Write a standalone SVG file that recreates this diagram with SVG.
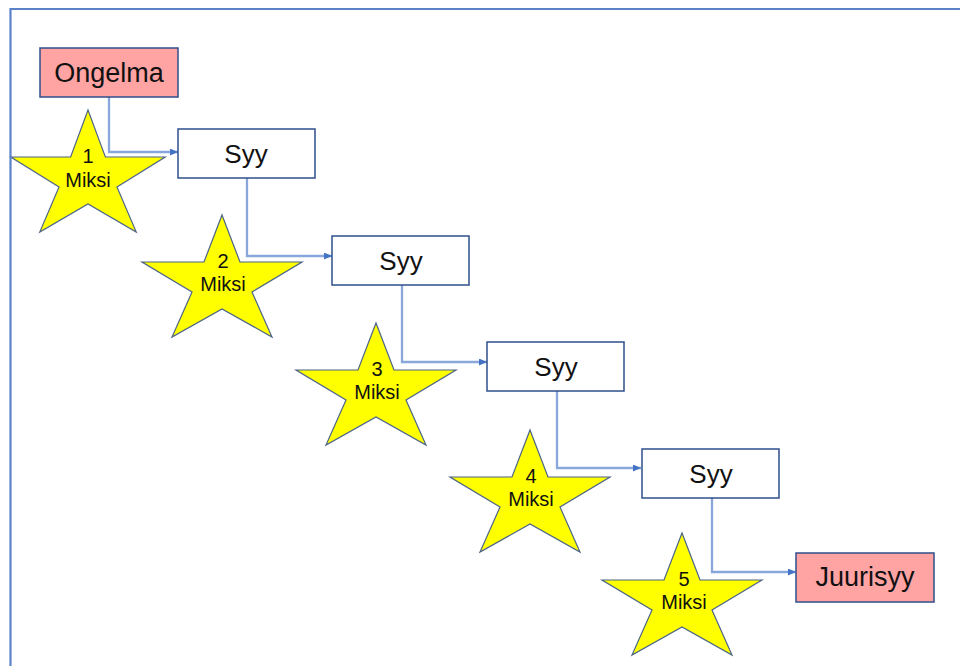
<svg xmlns="http://www.w3.org/2000/svg" width="960" height="666" viewBox="0 0 960 666">
<style>
.box{stroke:#2f4f8a;stroke-width:1.5}
.cause{fill:#ffffff}
.pink{fill:#ffa3a3}
.star{fill:#ffff00;stroke:#4a6487;stroke-width:1.2;stroke-linejoin:miter}
.lbl{font-family:"Liberation Sans",Arial,sans-serif;fill:#111;text-anchor:middle}
.big{font-size:26px}
.pk{font-size:27px}
.st{font-size:20px}
.conn{fill:none;stroke:#8aa7dc;stroke-width:2.3}
</style>
<defs>
<polygon id="starshape" points="0,0 18,47 80,47 30,77 50,122 0,94 -50,122 -30,77 -80,47 -18,47"/>
<marker id="arr" markerUnits="userSpaceOnUse" markerWidth="9" markerHeight="8" refX="8" refY="3.5" orient="auto">
<path d="M0,0 L8,3.5 L0,7 z" fill="#4472c4"/>
</marker>
</defs>
<rect width="960" height="666" fill="#ffffff"/>

<g id="star1"><use href="#starshape" class="star" transform="translate(88,110) scale(0.965,1)"/><text class="lbl st" x="88" y="163">1</text><text class="lbl st" x="88" y="187">Miksi</text></g>
<g id="star2"><use href="#starshape" class="star" x="222" y="215"/><text class="lbl st" x="223" y="268">2</text><text class="lbl st" x="223" y="291">Miksi</text></g>
<g id="star3"><use href="#starshape" class="star" x="376" y="323"/><text class="lbl st" x="377" y="376">3</text><text class="lbl st" x="377" y="399">Miksi</text></g>
<g id="star4"><use href="#starshape" class="star" x="530" y="430"/><text class="lbl st" x="531" y="483">4</text><text class="lbl st" x="531" y="506">Miksi</text></g>
<g id="star5"><use href="#starshape" class="star" x="682" y="533"/><text class="lbl st" x="684" y="586">5</text><text class="lbl st" x="684" y="609">Miksi</text></g>

<g id="connectors">
<path class="conn" d="M109,97 V152 H178" marker-end="url(#arr)"/>
<path class="conn" d="M247,173 V256 H332" marker-end="url(#arr)"/>
<path class="conn" d="M402,280 V362 H487" marker-end="url(#arr)"/>
<path class="conn" d="M557,387 V468 H641" marker-end="url(#arr)"/>
<path class="conn" d="M712,490 V572 H796" marker-end="url(#arr)"/>
</g>

<g id="ongelma"><rect class="box pink" x="40" y="48" width="138" height="49"/><text class="lbl pk" x="109" y="82">Ongelma</text></g>
<g id="syy1"><rect class="box cause" x="178" y="129" width="137" height="49"/><text class="lbl big" x="246" y="163">Syy</text></g>
<g id="syy2"><rect class="box cause" x="332" y="236" width="137" height="49"/><text class="lbl big" x="401" y="270">Syy</text></g>
<g id="syy3"><rect class="box cause" x="487" y="342" width="137" height="49"/><text class="lbl big" x="556" y="376">Syy</text></g>
<g id="syy4"><rect class="box cause" x="642" y="449" width="137" height="49"/><text class="lbl big" x="711" y="483">Syy</text></g>
<g id="juurisyy"><rect class="box pink" x="796" y="553" width="138" height="49"/><text class="lbl pk" x="865" y="586">Juurisyy</text></g>

<g id="frame"><path d="M10.5,680 V9 H980" fill="none" stroke="#5a82c8" stroke-width="2.2"/></g>
</svg>
